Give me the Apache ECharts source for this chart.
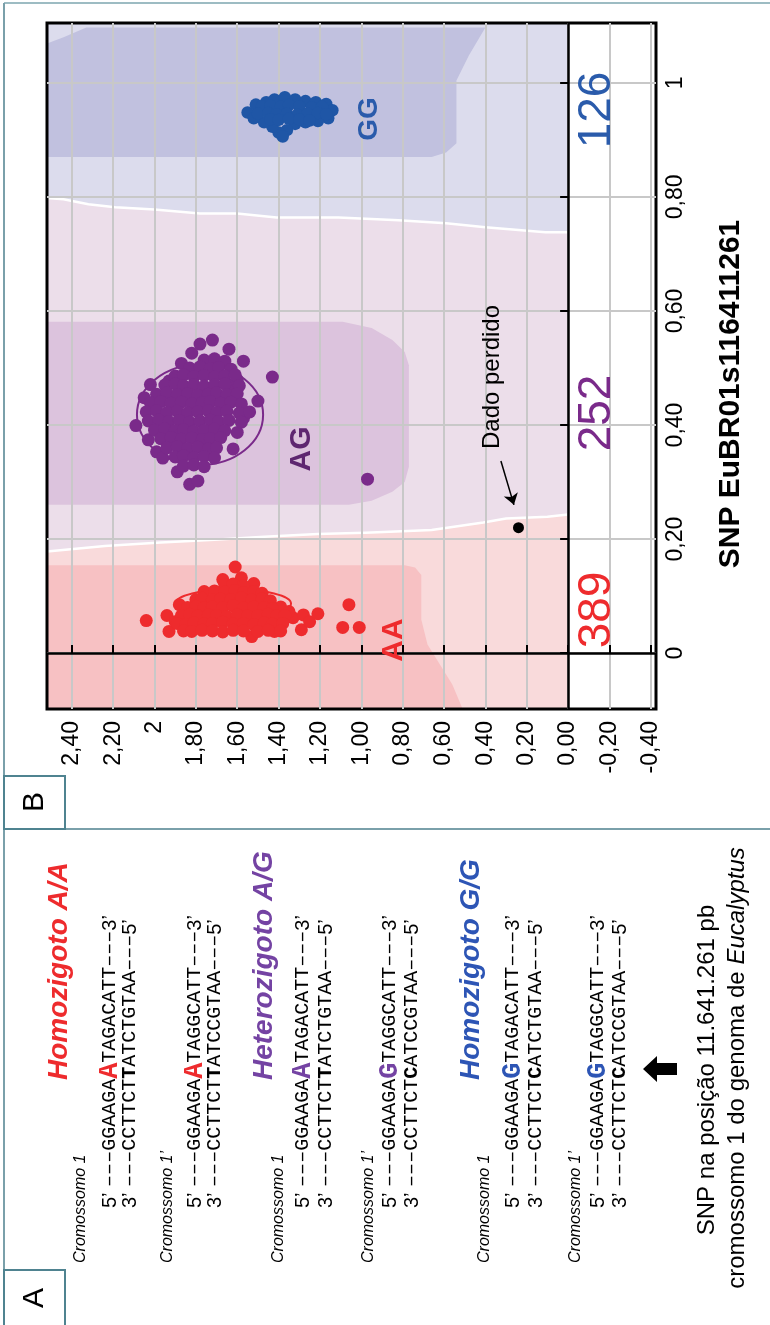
<!DOCTYPE html>
<html>
<head>
<meta charset="utf-8">
<script src="https://cdn.jsdelivr.net/npm/echarts@6.0.0/dist/echarts.min.js"></script>
<style>
  html, body { margin: 0; padding: 0; background: #fff; }
  #chart { width: 770px; height: 1325px; }
</style>
</head>
<body>
<div id="chart"></div>
<script>
// --- axes (x = Norm R, y = Norm Theta; figure is printed turned 90 degrees) ---
const rTickValues = [-0.4, -0.2, 0, 0.2, 0.4, 0.6, 0.8, 1.0, 1.2, 1.4, 1.6, 1.8, 2.0, 2.2, 2.4];
const rTickLabels = ['-0,40', '-0,20', '0,00', '0,20', '0,40', '0,60', '0,80', '1,00', '1,20', '1,40', '1,60', '1,80', '2', '2,20', '2,40'];
const thetaTickValues = [0, 0.2, 0.4, 0.6, 0.8, 1];
const thetaTickLabels = ['0', '0,20', '0,40', '0,60', '0,80', '1'];

// --- genotype clusters [R, theta] ---
const aaPoints = [
  [2.04, 0.057], [1.94, 0.066], [1.93, 0.038], [1.88, 0.085], [1.61, 0.151], [1.58, 0.132], [1.67, 0.129], [1.52, 0.122],
  [1.53, 0.029], [1.42, 0.038], [1.39, 0.081], [1.33, 0.062], [1.28, 0.067], [1.29, 0.041], [1.25, 0.055], [1.21, 0.069],
  [1.06, 0.085], [1.09, 0.045], [1.01, 0.045], [1.90, 0.055], [1.83, 0.041], [1.35, 0.073],
  [1.66, 0.120], [1.62, 0.121], [1.57, 0.118],
  [1.76, 0.108], [1.71, 0.109], [1.66, 0.107], [1.61, 0.110], [1.57, 0.106], [1.52, 0.108], [1.48, 0.105],
  [1.80, 0.094], [1.77, 0.096], [1.72, 0.093], [1.68, 0.095], [1.63, 0.094], [1.58, 0.097], [1.53, 0.093], [1.48, 0.095], [1.44, 0.092],
  [1.84, 0.080], [1.80, 0.082], [1.76, 0.079], [1.72, 0.081], [1.67, 0.080], [1.62, 0.083], [1.57, 0.079], [1.52, 0.081], [1.47, 0.080], [1.43, 0.078],
  [1.87, 0.066], [1.83, 0.068], [1.79, 0.065], [1.74, 0.067], [1.70, 0.066], [1.65, 0.064], [1.60, 0.067], [1.55, 0.065], [1.50, 0.066], [1.45, 0.068], [1.41, 0.065], [1.37, 0.066],
  [1.89, 0.052], [1.85, 0.050], [1.81, 0.053], [1.76, 0.051], [1.72, 0.052], [1.67, 0.054], [1.62, 0.051], [1.57, 0.052], [1.52, 0.050], [1.47, 0.053], [1.43, 0.051], [1.38, 0.052],
  [1.86, 0.039], [1.82, 0.038], [1.77, 0.040], [1.72, 0.039], [1.67, 0.037], [1.62, 0.040], [1.57, 0.039], [1.50, 0.038], [1.45, 0.040], [1.39, 0.039]
];
const agPoints = [
  [1.72, 0.549], [1.78, 0.542], [1.82, 0.526], [1.64, 0.533], [1.57, 0.512], [1.87, 0.508], [2.02, 0.471], [1.93, 0.477],
  [2.05, 0.448], [2.09, 0.399], [1.43, 0.484], [1.50, 0.442], [1.57, 0.412], [1.60, 0.387], [1.62, 0.358], [2.03, 0.374],
  [1.99, 0.353], [1.96, 0.342], [1.89, 0.318], [1.83, 0.296], [1.79, 0.302], [0.97, 0.305], [1.60, 0.479], [1.64, 0.470],
  [1.76, 0.514], [1.71, 0.516], [1.66, 0.512],
  [1.83, 0.500], [1.78, 0.502], [1.73, 0.499], [1.69, 0.501], [1.63, 0.498],
  [1.90, 0.486], [1.86, 0.488], [1.81, 0.485], [1.76, 0.487], [1.71, 0.484], [1.66, 0.486], [1.61, 0.488],
  [1.95, 0.470], [1.90, 0.472], [1.86, 0.469], [1.81, 0.471], [1.76, 0.468], [1.71, 0.470], [1.66, 0.472], [1.59, 0.469],
  [1.99, 0.454], [1.94, 0.456], [1.89, 0.453], [1.84, 0.455], [1.79, 0.452], [1.74, 0.454], [1.70, 0.456], [1.65, 0.453], [1.60, 0.455],
  [2.02, 0.439], [1.97, 0.441], [1.92, 0.438], [1.87, 0.440], [1.82, 0.437], [1.77, 0.439], [1.73, 0.441], [1.68, 0.438], [1.63, 0.440], [1.58, 0.437],
  [2.04, 0.423], [1.99, 0.425], [1.94, 0.422], [1.89, 0.424], [1.84, 0.421], [1.79, 0.423], [1.74, 0.425], [1.70, 0.422], [1.65, 0.424], [1.59, 0.421], [1.54, 0.423],
  [2.03, 0.407], [1.98, 0.409], [1.93, 0.406], [1.88, 0.408], [1.83, 0.405], [1.78, 0.407], [1.73, 0.409], [1.69, 0.406], [1.64, 0.408], [1.58, 0.405],
  [2.00, 0.391], [1.95, 0.393], [1.90, 0.390], [1.86, 0.392], [1.81, 0.389], [1.76, 0.391], [1.71, 0.393], [1.66, 0.390],
  [1.97, 0.376], [1.92, 0.378], [1.87, 0.375], [1.82, 0.377], [1.77, 0.374], [1.73, 0.376], [1.68, 0.378],
  [1.94, 0.360], [1.89, 0.362], [1.84, 0.359], [1.79, 0.361], [1.74, 0.358], [1.70, 0.360],
  [1.90, 0.344], [1.86, 0.346], [1.81, 0.343], [1.76, 0.345], [1.71, 0.342],
  [1.86, 0.328], [1.81, 0.330], [1.76, 0.327]
];
const ggPoints = [
  [1.55, 0.948], [1.51, 0.962], [1.46, 0.966], [1.42, 0.971], [1.37, 0.975], [1.32, 0.971], [1.27, 0.968], [1.22, 0.966], [1.17, 0.963], [1.14, 0.952],
  [1.16, 0.938], [1.21, 0.933], [1.27, 0.931], [1.32, 0.928], [1.36, 0.917], [1.40, 0.913], [1.38, 0.906], [1.43, 0.923], [1.47, 0.931], [1.52, 0.938],
  [1.48, 0.959], [1.44, 0.960], [1.39, 0.958], [1.35, 0.961], [1.30, 0.959], [1.24, 0.957], [1.19, 0.958],
  [1.50, 0.946], [1.45, 0.947], [1.41, 0.945], [1.36, 0.946], [1.31, 0.944], [1.26, 0.946], [1.21, 0.947], [1.17, 0.945],
  [1.44, 0.936], [1.40, 0.935], [1.35, 0.937], [1.30, 0.936], [1.25, 0.934]
];
const missingPoint = [[0.24, 0.22]];
const arrowFrom = [0.325, 0.337];
const arrowTo = [0.262, 0.260];

// cluster outlines [R centre, theta centre, R radius, theta radius]
const clusterOutlines = [[1.62, 0.087, 0.28, 0.025], [1.78, 0.418, 0.305, 0.088]];

// --- cluster zones (call regions) ---
const aaAgBoundary = [[2.52, 0.178], [2.24, 0.188], [1.97, 0.194], [1.71, 0.199], [1.47, 0.204], [1.21, 0.209], [0.98, 0.211], [0.66, 0.216], [0.41, 0.229], [0.30, 0.236], [0.10, 0.239], [0, 0.243]];
const agGgBoundary = [[2.52, 0.798], [2.44, 0.796], [2.32, 0.787], [2.19, 0.782], [2.00, 0.778], [1.78, 0.771], [1.60, 0.771], [1.41, 0.764], [1.11, 0.764], [0.82, 0.759], [0.59, 0.754], [0.40, 0.747], [0.11, 0.738], [0, 0.738]];
const aaCore = [[2.52, 0.154], [0.79, 0.154], [0.74, 0.150], [0.71, 0.137], [0.71, 0.059], [0.68, 0.015], [0.62, -0.020], [0.56, -0.055], [0.51, -0.098], [2.52, -0.098]];
const agCore = [[2.52, 0.581], [1.09, 0.581], [0.95, 0.570], [0.85, 0.549], [0.79, 0.528], [0.77, 0.505], [0.77, 0.327], [0.79, 0.300], [0.85, 0.283], [0.95, 0.267], [1.06, 0.260], [2.52, 0.260]];
const ggCore = [[2.52, 0.870], [0.66, 0.870], [0.59, 0.878], [0.54, 0.894], [0.54, 1.004], [0.48, 1.048], [0.40, 1.097], [2.33, 1.097], [2.44, 1.080], [2.52, 1.069]];

const clusterCounts = ['389', '252', '126'];
const clusterNames = ['AA', 'AG', 'GG'];

// --- panel A text ---
const genotypeTitles = ['Homozigoto A/A', 'Heterozigoto A/G', 'Homozigoto G/G'];
const chromosomeNames = ['Cromossomo 1', 'Cromossomo 1\u2019', 'Cromossomo 1', 'Cromossomo 1\u2019', 'Cromossomo 1', 'Cromossomo 1\u2019'];
const strand5 = [['GGAAGA', 'A', 'TAGACATT'], ['GGAAGA', 'A', 'TAGGCATT'], ['GGAAGA', 'A', 'TAGACATT'], ['GGAAGA', 'G', 'TAGGCATT'], ['GGAAGA', 'G', 'TAGACATT'], ['GGAAGA', 'G', 'TAGGCATT']];
const strand3 = [['CCTTCT', 'T', 'ATCTGTAA'], ['CCTTCT', 'T', 'ATCCGTAA'], ['CCTTCT', 'T', 'ATCTGTAA'], ['CCTTCT', 'C', 'ATCCGTAA'], ['CCTTCT', 'C', 'ATCTGTAA'], ['CCTTCT', 'C', 'ATCCGTAA']];

const RED = '#ee2b2d', PURPLE = '#7a2a8a', BLUE = '#1f56a6';
const SANS = '"Liberation Sans", Arial, sans-serif';
const MONO = '"Liberation Mono", "Courier New", monospace';

const chart = echarts.init(document.getElementById('chart'));

const zones = [
  { pts: [[2.52, -0.098], [0, -0.098]].concat(aaAgBoundary.slice().reverse()), fill: '#f9dadb' },
  { pts: aaAgBoundary.concat(agGgBoundary.slice().reverse()), fill: '#ecdeea' },
  { pts: agGgBoundary.concat([[0, 1.105], [2.52, 1.105]]), fill: '#dcdced' },
  { pts: aaCore, fill: '#f7c1c3' },
  { pts: agCore, fill: '#dcc3dd' },
  { pts: ggCore, fill: '#c1c1df' },
  { pts: aaAgBoundary, line: true },
  { pts: agGgBoundary, line: true }
];

// rotated text helper (reads bottom to top)
function vText(x, y, text, font, fill, align, extra) {
  return {
    type: 'text', x: x, y: y, rotation: Math.PI / 2, z: 100,
    style: Object.assign({ text: text, font: font, fill: fill || '#000', align: align || 'center', verticalAlign: 'middle' }, extra || {})
  };
}

const frameColor = '#7aa0aa';
const graphics = [
  { type: 'line', shape: { x1: 4, y1: 3, x2: 770, y2: 3 }, style: { stroke: '#9dbcc3', lineWidth: 2 }, z: 100 },
  { type: 'line', shape: { x1: 4, y1: 3, x2: 4, y2: 1325 }, style: { stroke: frameColor, lineWidth: 2 }, z: 100 },
  { type: 'line', shape: { x1: 4, y1: 829, x2: 770, y2: 829 }, style: { stroke: frameColor, lineWidth: 2 }, z: 100 },
  { type: 'rect', shape: { x: 4, y: 776, width: 61, height: 53 }, style: { fill: '#fff', stroke: '#4f8390', lineWidth: 2 }, z: 100 },
  { type: 'rect', shape: { x: 4, y: 1270, width: 61, height: 60 }, style: { fill: '#fff', stroke: '#4f8390', lineWidth: 2 }, z: 100 },
  vText(35, 802, 'B', '30px ' + SANS),
  vText(35, 1298, 'A', '30px ' + SANS),
  // panel B annotations
  vText(731, 394, 'SNP EuBR01s116411261', 'bold 30px ' + SANS),
  vText(597, 610, clusterCounts[0], '46px ' + SANS, RED),
  vText(597, 413, clusterCounts[1], '46px ' + SANS, PURPLE),
  vText(597, 110, clusterCounts[2], '46px ' + SANS, '#2a5bab'),
  vText(394, 640, clusterNames[0], 'bold 30px ' + SANS, RED),
  vText(302, 449, clusterNames[1], 'bold 30px ' + SANS, '#5e2670'),
  vText(369, 119, clusterNames[2], 'bold 28px ' + SANS, '#2a5bab'),
  vText(492, 377, 'Dado perdido', '24px ' + SANS),
  // panel A caption and arrow
  { type: 'polygon', shape: { points: [[643, 1069], [657, 1056], [657, 1063], [677, 1063], [677, 1075], [657, 1075], [657, 1082]] }, style: { fill: '#000' }, z: 100 },
  vText(707, 1070, 'SNP na posi\u00e7\u00e3o 11.641.261 pb', '24px ' + SANS),
  vText(737, 1068, '{n|cromossomo 1 do genoma de }{i|Eucalyptus}', '24px ' + SANS, '#000', 'center', {
    rich: { n: { font: '24px ' + SANS, fill: '#000' }, i: { font: 'italic 24px ' + SANS, fill: '#000' } }
  })
];

const titleX = [59, 264, 471];
const titleColors = [RED, '#7443a3', '#2d55b5'];
genotypeTitles.forEach((t, i) => graphics.push(vText(titleX[i], 1080, t, 'italic bold 28px ' + SANS, titleColors[i], 'left')));

const chromX = [81, 168, 279, 369, 485, 576];
const s5X = [110, 195, 303, 390, 513, 598];
const s3X = [130, 215, 326, 412, 536, 620];
const snpColors = [RED, RED, '#7443a3', '#7443a3', '#2d55b5', '#2d55b5'];
const dash = '\u2013\u2013\u2013';
chromosomeNames.forEach((name, i) => {
  graphics.push(vText(chromX[i], 1263, name, 'italic 16px ' + SANS, '#000', 'left'));
  const rich = {
    p: { font: '20px ' + SANS, fill: '#000' },
    s: { font: '20px ' + MONO, fill: '#000' },
    snp: { font: 'bold 27px ' + MONO, fill: snpColors[i] },
    b: { font: 'bold 20px ' + MONO, fill: '#000' }
  };
  const a = strand5[i], c = strand3[i];
  graphics.push(vText(s5X[i], 1208, '{p|5\u2019 }{s|' + dash + a[0] + '}{snp|' + a[1] + '}{s|' + a[2] + dash + '}{p|3\u2019}', '20px ' + MONO, '#000', 'left', { rich: rich }));
  graphics.push(vText(s3X[i], 1208, '{p|3\u2019 }{s|' + dash + c[0] + '}{b|' + c[1] + '}{s|' + c[2] + dash + '}{p|5\u2019}', '20px ' + MONO, '#000', 'left', { rich: rich }));
});

const option = {
  animation: false,
  backgroundColor: '#fff',
  grid: {
    left: 47, top: 23, right: 114, bottom: 616,
    show: true, borderColor: '#000', borderWidth: 3, backgroundColor: 'transparent',
    outerBoundsMode: 'none'
  },
  xAxis: {
    type: 'value', inverse: true, min: -0.425, max: 2.52, position: 'bottom',
    axisLine: { show: false },
    axisTick: { show: true, inside: true, length: 8, customValues: rTickValues, lineStyle: { color: '#000', width: 2 } },
    splitLine: { show: true, lineStyle: { color: '#c8c8c8', width: 2 } },
    axisLabel: {
      customValues: rTickValues, rotate: 90, margin: 12, color: '#000', fontSize: 23, fontFamily: SANS,
      formatter: v => rTickLabels[rTickValues.indexOf(v)]
    }
  },
  yAxis: {
    type: 'value', min: -0.098, max: 1.105, position: 'right',
    axisLine: { show: false },
    axisTick: { show: true, inside: true, length: 8, customValues: thetaTickValues, lineStyle: { color: '#000', width: 2 } },
    splitLine: { show: true, lineStyle: { color: '#c8c8c8', width: 2 } },
    axisLabel: {
      customValues: thetaTickValues, rotate: 90, margin: 8, color: '#000', fontSize: 23, fontFamily: SANS,
      formatter: v => thetaTickLabels[thetaTickValues.indexOf(v)]
    }
  },
  graphic: { elements: graphics },
  series: [
    {
      type: 'custom', z: -1, silent: true,
      data: zones.map(() => [0, 0]),
      renderItem(params, api) {
        const zone = zones[params.dataIndex];
        const pts = zone.pts.map(p => api.coord(p));
        if (zone.line) {
          return { type: 'polyline', shape: { points: pts }, style: { stroke: '#fff', lineWidth: 2.5, fill: null } };
        }
        return { type: 'polygon', shape: { points: pts }, style: { fill: zone.fill } };
      }
    },
    {
      type: 'custom', z: 1, silent: true,
      data: clusterOutlines,
      renderItem(params, api) {
        const c = api.coord([api.value(0), api.value(1)]);
        const s = api.size([api.value(2), api.value(3)]);
        return {
          type: 'ellipse', shape: { cx: c[0], cy: c[1], rx: s[0], ry: s[1] },
          style: { fill: null, stroke: params.dataIndex === 0 ? RED : PURPLE, lineWidth: 2 }
        };
      },
      markLine: {
        silent: true, symbol: 'none', label: { show: false },
        lineStyle: { color: '#000', width: 2.5, type: 'solid' },
        data: [{ xAxis: 0 }, { yAxis: 0 }]
      }
    },
    { name: 'AA', type: 'scatter', data: aaPoints, symbolSize: 13, itemStyle: { color: RED, opacity: 1 }, silent: true },
    { name: 'AG', type: 'scatter', data: agPoints, symbolSize: 13, itemStyle: { color: PURPLE, opacity: 1 }, silent: true },
    { name: 'GG', type: 'scatter', data: ggPoints, symbolSize: 12.5, itemStyle: { color: BLUE, opacity: 1 }, silent: true },
    {
      name: 'Dado perdido', type: 'scatter', data: missingPoint, symbolSize: 11, itemStyle: { color: '#000', opacity: 1 }, silent: true,
      markLine: {
        silent: true, symbol: ['none', 'arrow'], symbolSize: 11, label: { show: false },
        lineStyle: { color: '#000', width: 1.5, type: 'solid' },
        data: [[{ coord: arrowFrom }, { coord: arrowTo }]]
      }
    }
  ]
};

chart.setOption(option);
</script>
</body>
</html>
